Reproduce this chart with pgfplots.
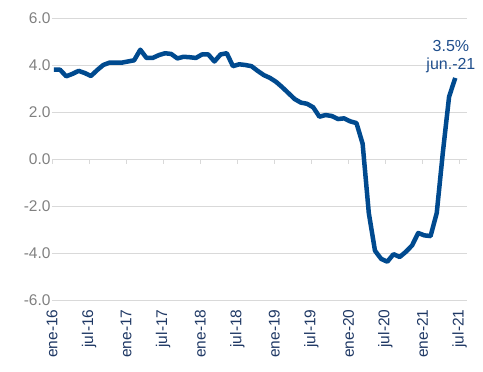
\documentclass[border=0pt]{standalone}
\usepackage{fontspec}
\setmainfont{Liberation Sans}
\usepackage{pgfplots}
\usepackage{pgfplotstable}
\pgfplotsset{compat=1.18}
\definecolor{linecol}{HTML}{004A8F}
\definecolor{txtcol}{HTML}{1F4E8C}
\definecolor{xlab}{HTML}{1F3864}
\definecolor{ylab}{HTML}{808080}
\definecolor{gridc}{HTML}{D9D9D9}

\pgfplotstableread{
x y
0 3.80
1 3.80
2 3.52
3 3.62
4 3.75
5 3.66
6 3.53
7 3.78
8 4.00
9 4.10
10 4.10
11 4.10
12 4.15
13 4.20
14 4.65
15 4.30
16 4.30
17 4.42
18 4.50
19 4.47
20 4.28
21 4.35
22 4.33
23 4.30
24 4.45
25 4.45
26 4.15
27 4.45
28 4.50
29 3.95
30 4.03
31 4.00
32 3.95
33 3.75
34 3.57
35 3.45
36 3.28
37 3.05
38 2.80
39 2.55
40 2.40
41 2.35
42 2.20
43 1.80
44 1.87
45 1.83
46 1.70
47 1.73
48 1.60
49 1.53
50 0.65
51 -2.30
52 -3.90
53 -4.25
54 -4.37
55 -4.05
56 -4.17
57 -3.95
58 -3.68
59 -3.15
60 -3.25
61 -3.28
62 -2.30
63 0.30
64 2.65
65 3.45
}\datatable

\begin{document}
\begin{tikzpicture}
\begin{axis}[
  at={(0pt,136pt)}, anchor=south west,
  scale only axis, width=415pt, height=5pt,
  xmin=0, xmax=67.2, ymin=0, ymax=1,
  axis line style={draw=none},
  xtick={0,6,...,66}, xticklabels={}, ytick=\empty,
  tick style={draw=none},
  xmajorgrids, grid style={gridc, line width=0.9pt},
]
\end{axis}
\begin{axis}[
  at={(0pt,0pt)}, anchor=south west,
  scale only axis, width=415pt, height=282pt,
  xmin=0, xmax=67.2, ymin=-6, ymax=6,
  axis line style={draw=none},
  ytick={-6,-4,-2,0,2,4,6},
  yticklabels={-6.0,-4.0,-2.0,0.0,2.0,4.0,6.0},
  ymajorgrids, grid style={gridc, line width=0.9pt},
  xtick={0,6,...,66},
  xticklabels={ene-16,jul-16,ene-17,jul-17,ene-18,jul-18,ene-19,jul-19,ene-20,jul-20,ene-21,jul-21},
  tick style={draw=none},
  xticklabel style={yshift=-6pt, rotate=90, anchor=east, font=\fontsize{15.5}{18}\selectfont, text=xlab},
  yticklabel style={xshift=2pt, font=\fontsize{15.5}{18}\selectfont, text=ylab},
  clip=false,
]
\addplot[linecol, line width=4.5pt, line join=round] table[x expr=\thisrow{x}+0.3, y=y] {\datatable};
\node[anchor=base, text=txtcol, font=\fontsize{16}{18}\selectfont, inner sep=0pt] at (axis cs:64.6,4.566) {3.5\%};
\node[anchor=base, text=txtcol, font=\fontsize{16}{18}\selectfont, inner sep=0pt] at (axis cs:64.6,3.817) {jun.-21};
\end{axis}
\pgfresetboundingbox
\path[use as bounding box] (-52pt,-72pt) rectangle (431pt,300pt);
\end{tikzpicture}
\end{document}
